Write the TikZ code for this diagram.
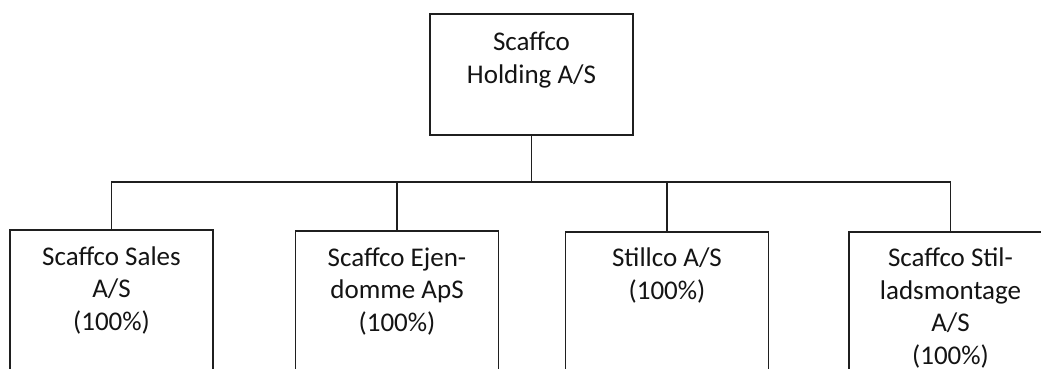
\documentclass[tikz,border=0pt]{standalone}
\usepackage{fontspec}
\setmainfont{Carlito}
\begin{document}
\begin{tikzpicture}[x=1pt,y=-1pt,
  box/.style={draw=black!88, line width=1.8pt, minimum width=203pt, minimum height=#1, anchor=north, inner sep=0pt},
  box/.default=200pt,
  lbl/.style={anchor=base, align=center, inner sep=0pt, text=black!92, font=\fontsize{27}{32.5}\selectfont},
  link/.style={draw=black!88, line width=1.8pt}]
\clip (0,0) rectangle (1041,369);
\fill[white] (0,0) rectangle (1041,369);
\node[box=121pt] (top) at (531.5,13) {};
\node[lbl] (toplbl) at ([yshift=-70pt]top.north) {Scaffco\\Holding A/S};
\node[box] (b1) at (111.5,229) {};
\node[box] (b2) at (397,230) {};
\node[box] (b3) at (667,231) {};
\node[box] (b4) at (950.5,231) {};
\node[lbl] (l1) at ([yshift=-101pt]b1.north) {Scaffco Sales\\A/S\\(100\%)};
\node[lbl] (l2) at ([yshift=-101pt]b2.north) {Scaffco Ejen-\\domme ApS\\(100\%)};
\node[lbl] (l3) at ([yshift=-68pt]b3.north) {Stillco A/S\\(100\%)};
\node[lbl] (l4) at ([yshift=-133pt]b4.north) {Scaffco Stil-\\ladsmontage\\A/S\\(100\%)};
\coordinate (bus) at (531.5,182);
\draw[link] (top.south) -- (bus);
\draw[link] (b1.north) |- (bus);
\draw[link] (b2.north) |- (bus);
\draw[link] (b3.north) |- (bus);
\draw[link] (b4.north) |- (bus);
\end{tikzpicture}
\end{document}
